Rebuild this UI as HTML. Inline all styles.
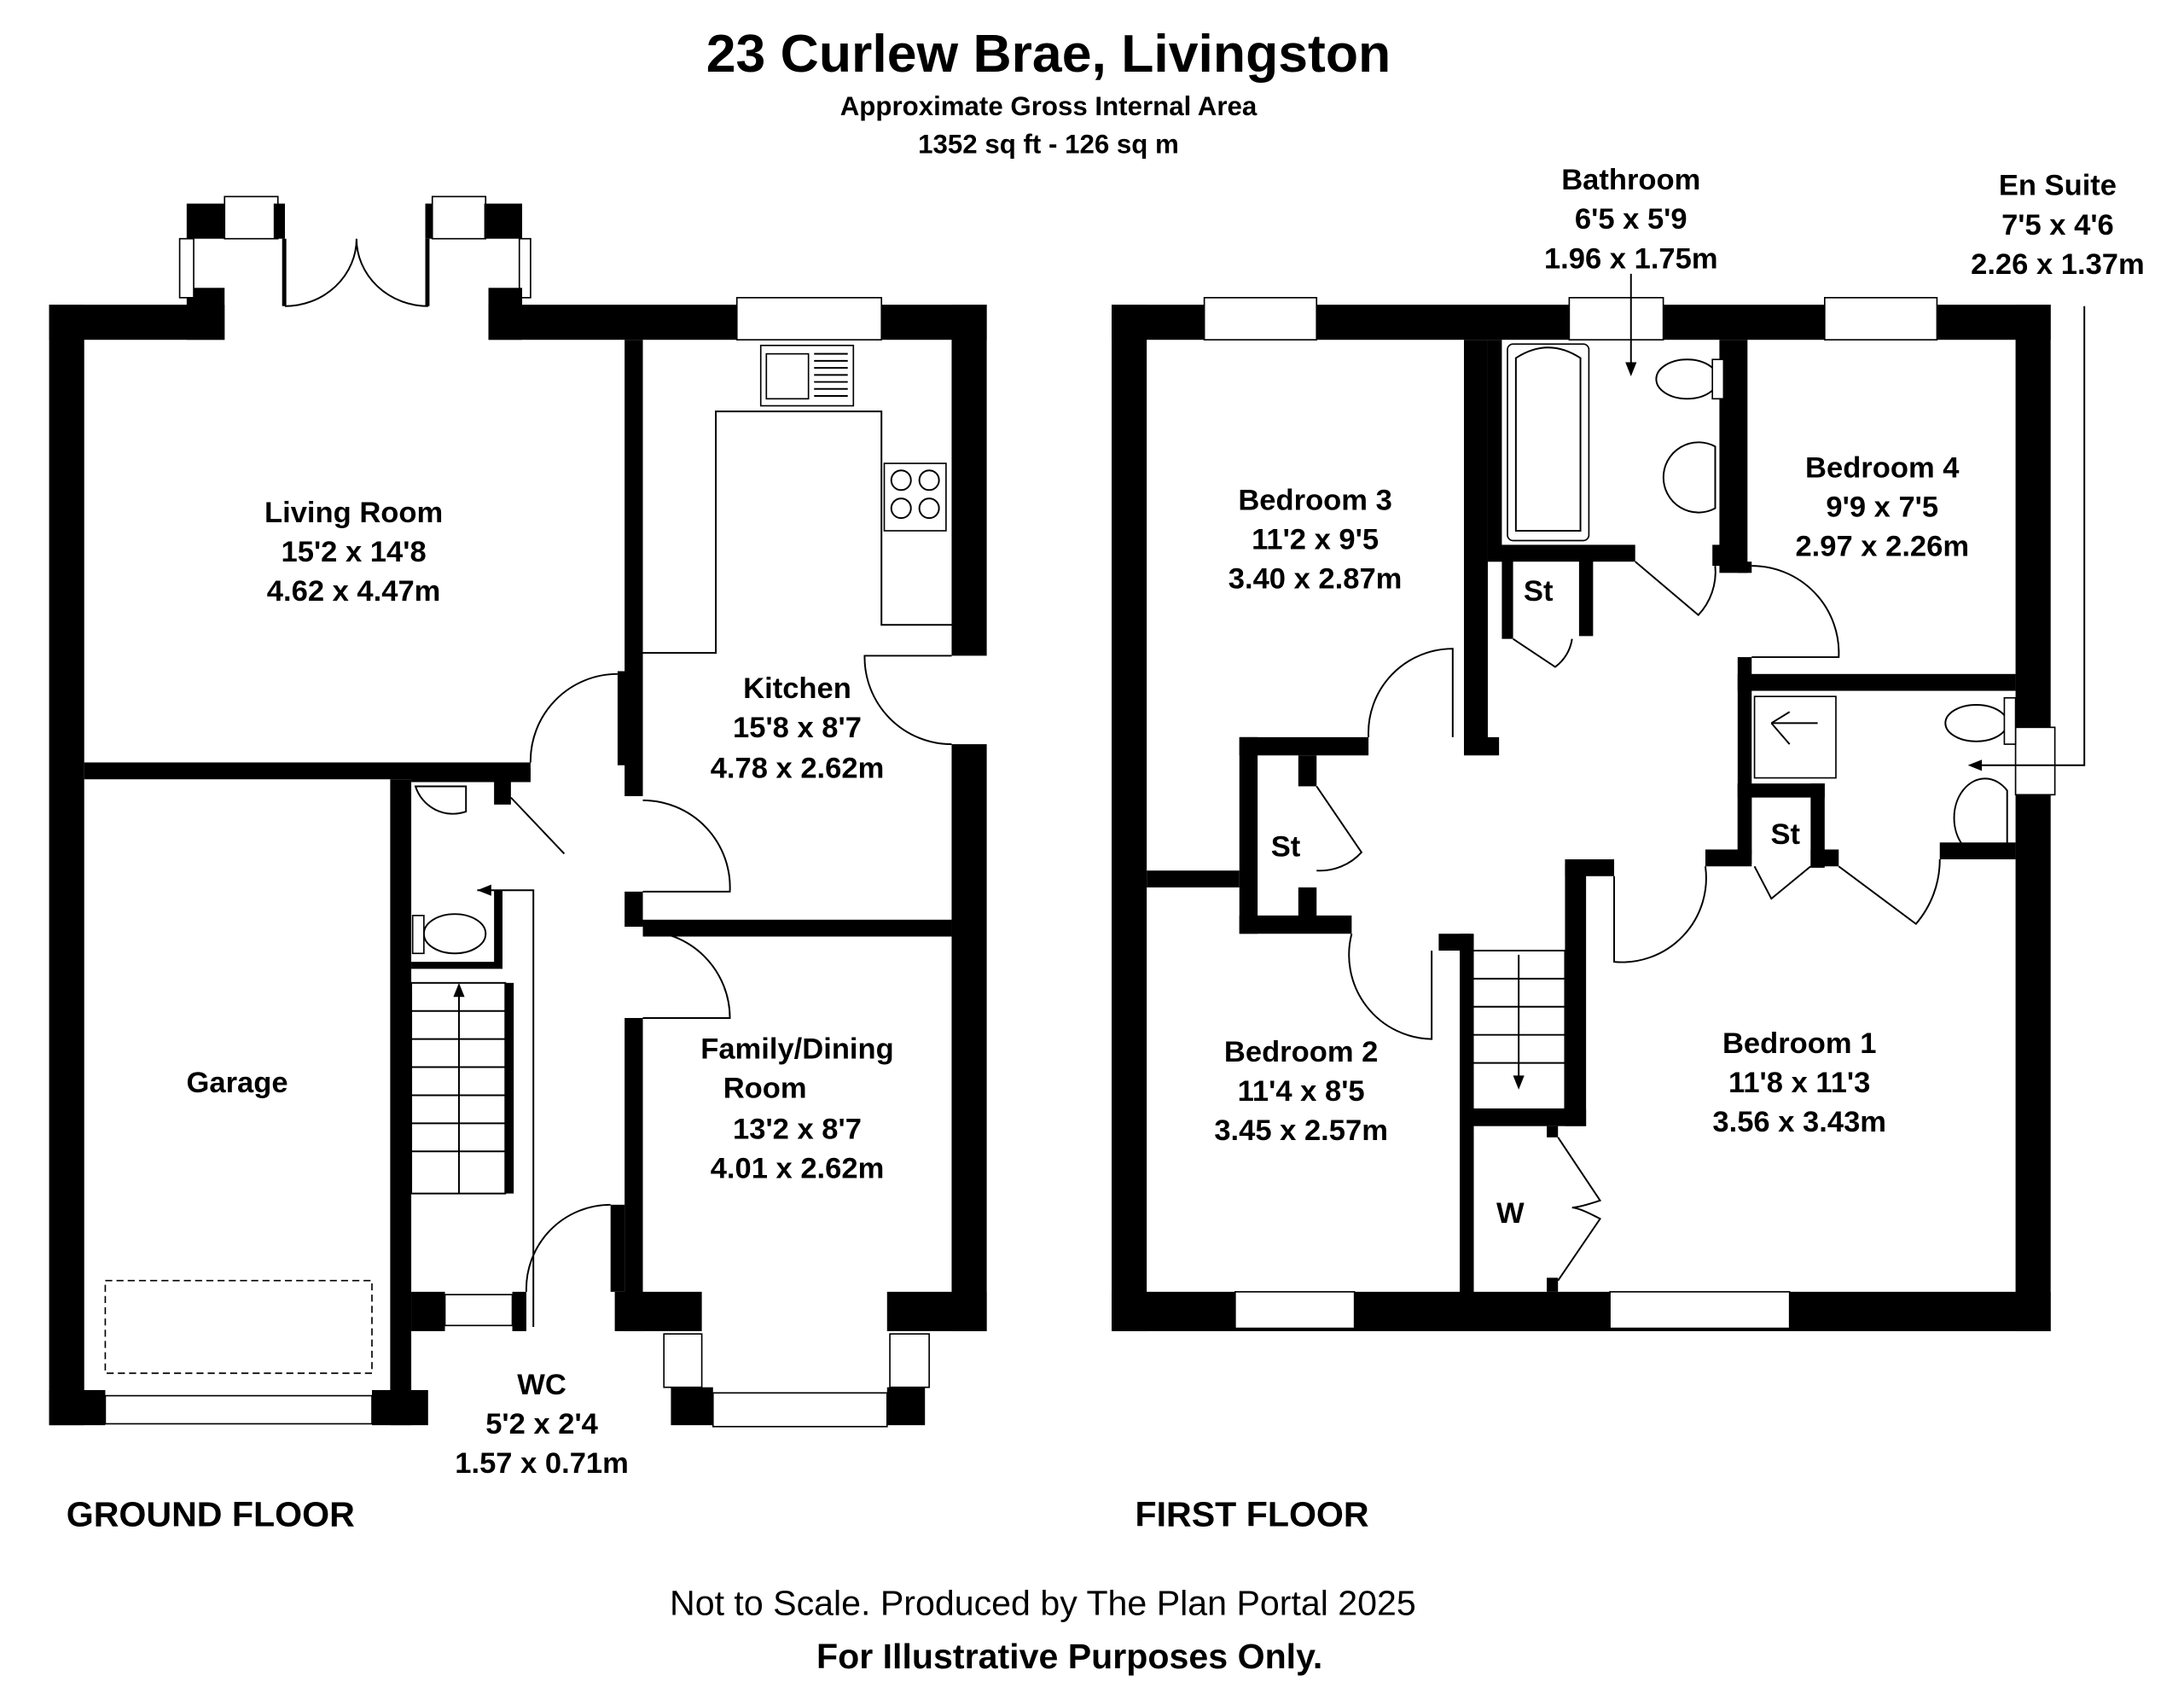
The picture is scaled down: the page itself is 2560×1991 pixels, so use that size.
<!DOCTYPE html>
<html><head><meta charset="utf-8"><style>
html,body{margin:0;padding:0;background:#fff}
svg{display:block}
text{font-family:"Liberation Sans",Arial,sans-serif;font-weight:bold;fill:#000;text-anchor:middle}
.t{font-size:21px}
.w{fill:#000}
.l{fill:none;stroke:#000;stroke-width:1.2}
.g{fill:#fff;stroke:#000;stroke-width:1}
</style></head><body>
<svg width="2560" height="1991" viewBox="0 0 1556 1210" preserveAspectRatio="none" xmlns="http://www.w3.org/2000/svg">
<rect width="1556" height="1210" fill="#fff"/>
<text x="747" y="51" style="font-size:38px">23 Curlew Brae, Livingston</text>
<text x="747" y="82" style="font-size:19px">Approximate Gross Internal Area</text>
<text x="747" y="109" style="font-size:19px">1352 sq ft - 126 sq m</text>

<!-- GROUND FLOOR -->
<g>
<rect class="w" x="35" y="217" width="125" height="25"/>
<rect class="w" x="35" y="217" width="25" height="798"/>
<rect class="w" x="35" y="990" width="40" height="25"/>
<rect class="w" x="265" y="990" width="40" height="25"/>
<rect class="w" x="278" y="555" width="15" height="460"/>
<rect class="g" x="75" y="994" width="190" height="20"/>
<rect x="75" y="912" width="190" height="66" fill="none" stroke="#000" stroke-dasharray="5,3"/>
<!-- bay french doors -->
<rect class="w" x="133" y="145" width="27" height="25"/>
<rect class="w" x="133" y="205" width="27" height="37"/>
<rect class="g" x="128" y="170" width="10" height="42"/>
<rect class="g" x="160" y="140" width="38" height="30"/>
<rect class="w" x="195" y="145" width="8" height="25"/>
<rect class="w" x="201" y="170" width="3" height="48"/>
<rect class="w" x="303" y="145" width="8" height="25"/>
<rect class="w" x="303" y="170" width="3" height="48"/>
<rect class="g" x="308" y="140" width="38" height="30"/>
<rect class="w" x="345" y="145" width="27" height="25"/>
<rect class="g" x="370" y="170" width="8" height="42"/>
<rect class="w" x="348" y="205" width="24" height="37"/>
<path class="l" d="M203,218 A51,48 0 0 0 254,170 A51,48 0 0 0 305,218"/>
<rect class="w" x="348" y="217" width="177" height="25"/>
<rect class="g" x="525" y="212" width="103" height="30"/>
<rect class="w" x="628" y="217" width="75" height="25"/>
<rect class="w" x="678" y="217" width="25" height="250"/>
<rect class="w" x="678" y="530" width="25" height="418"/>
<path class="l" d="M678,467 L616,467 A62,62 0 0 0 678,530"/>
<path class="l" d="M458,465 L510,465 L510,293 L628,293 L628,445 L678,445"/>
<rect class="g" x="542" y="246" width="66" height="43"/>
<path class="l" d="M580,252 h24 M580,257 h24 M580,262 h24 M580,267 h24 M580,272 h24 M580,277 h24 M580,282 h24"/>
<rect class="g" x="546" y="252" width="30" height="32"/>
<rect class="g" x="630" y="330" width="44" height="48"/>
<circle class="l" cx="642" cy="342" r="7"/><circle class="l" cx="662" cy="342" r="7"/>
<circle class="l" cx="642" cy="362" r="7"/><circle class="l" cx="662" cy="362" r="7"/>
<rect class="w" x="60" y="543" width="318" height="12"/>
<rect class="w" x="445" y="242" width="13" height="325"/>
<rect class="w" x="440" y="478" width="6" height="67"/>
<path class="l" d="M440,480 A62,62 0 0 0 378,543"/>
<path class="l" d="M458,570 A62,62 0 0 1 520,635 L458,635"/>
<rect class="w" x="445" y="635" width="13" height="25"/>
<rect class="w" x="458" y="655" width="220" height="12"/>
<path class="l" d="M458,663 A62,62 0 0 1 520,725 L458,725"/>
<rect class="w" x="445" y="725" width="13" height="223"/>
<rect class="w" x="438" y="920" width="62" height="28"/>
<rect class="w" x="632" y="920" width="71" height="28"/>
<rect class="g" x="473" y="950" width="27" height="38"/>
<rect class="g" x="634" y="950" width="28" height="38"/>
<rect class="w" x="478" y="988" width="30" height="27"/>
<rect class="w" x="632" y="988" width="27" height="27"/>
<rect class="g" x="508" y="992" width="124" height="24"/>
<!-- WC -->
<rect class="w" x="293" y="547" width="85" height="10"/>
<rect class="w" x="352" y="555" width="12" height="18"/>
<rect class="w" x="352" y="634" width="6" height="55"/>
<rect class="w" x="293" y="685" width="65" height="5"/>
<path class="l" d="M364,568 L402,608 M296,560 A28,28 0 0 0 332,578 L332,560 Z"/>
<ellipse class="l" cx="324" cy="665" rx="22" ry="14"/>
<rect class="g" x="294" y="652" width="8" height="27"/>
<path class="l" d="M340,634 L380,634 L380,945"/>
<path d="M340,634 l10,-4 v8 z"/>
<rect class="l" x="293" y="700" width="67" height="150"/>
<path class="l" d="M293,720 h67 M293,740 h67 M293,760 h67 M293,780 h67 M293,800 h67 M293,820 h67 M327,850 V705"/>
<path d="M327,700 l-4,10 h8 z"/>
<rect class="w" x="360" y="700" width="6" height="150"/>
<rect class="w" x="293" y="920" width="24" height="28"/>
<rect class="g" x="317" y="922" width="48" height="22"/>
<rect class="w" x="365" y="920" width="10" height="28"/>
<rect class="w" x="435" y="858" width="10" height="62"/>
<path class="l" d="M375,920 A60,60 0 0 1 435,858"/>
</g>
<text class="t" x="252" y="372">Living Room</text>
<text class="t" x="252" y="400">15'2 x 14'8</text>
<text class="t" x="252" y="428">4.62 x 4.47m</text>
<text class="t" x="568" y="497">Kitchen</text>
<text class="t" x="568" y="525">15'8 x 8'7</text>
<text class="t" x="568" y="554">4.78 x 2.62m</text>
<text class="t" x="568" y="754">Family/Dining</text>
<text class="t" x="545" y="782">Room</text>
<text class="t" x="568" y="811">13'2 x 8'7</text>
<text class="t" x="568" y="839">4.01 x 2.62m</text>
<text class="t" x="169" y="778">Garage</text>
<text class="t" x="386" y="993">WC</text>
<text class="t" x="386" y="1021">5'2 x 2'4</text>
<text class="t" x="386" y="1049">1.57 x 0.71m</text>
<text x="150" y="1087" style="font-size:25px">GROUND FLOOR</text>

<!-- FIRST FLOOR -->
<g>
<rect class="w" x="792" y="217" width="669" height="25"/>
<rect class="g" x="858" y="212" width="80" height="30"/>
<rect class="g" x="1118" y="212" width="67" height="30"/>
<rect class="g" x="1300" y="212" width="80" height="30"/>
<rect class="w" x="792" y="217" width="25" height="731"/>
<rect class="w" x="1436" y="217" width="25" height="731"/>
<rect class="g" x="1436" y="518" width="28" height="48"/>
<rect class="w" x="792" y="920" width="669" height="28"/>
<rect class="g" x="880" y="920" width="85" height="26"/>
<rect class="g" x="1147" y="920" width="128" height="26"/>
<rect class="w" x="1043" y="242" width="17" height="285"/>
<rect class="w" x="1060" y="242" width="10" height="158"/>
<rect class="w" x="1060" y="388" width="105" height="12"/>
<rect class="w" x="1225" y="242" width="20" height="166"/>
<rect class="w" x="1220" y="388" width="10" height="15"/>
<rect class="g" x="1074" y="245" width="58" height="140" rx="4"/>
<path class="l" d="M1080,255 Q1103,240 1126,255 V378 H1080 Z"/>
<ellipse class="l" cx="1202" cy="270" rx="22" ry="14"/>
<rect class="g" x="1220" y="256" width="8" height="28"/>
<path class="l" d="M1222,318 A25,25 0 1 0 1222,362 Z"/>
<path class="l" d="M1165,400 L1210,438 A45,45 0 0 0 1222,403"/>
<path class="l" d="M1162,195 V262"/><path d="M1162,268 l-4,-10 h8 z"/>
<rect class="w" x="1070" y="398" width="8" height="57"/>
<rect class="w" x="1125" y="398" width="10" height="55"/>
<path class="l" d="M1078,455 L1108,475 A30,30 0 0 0 1120,455"/>
<rect class="w" x="1238" y="400" width="10" height="8"/>
<path class="l" d="M1248,403 A62,62 0 0 1 1310,468 L1248,468"/>
<rect class="w" x="1238" y="468" width="10" height="140"/>
<rect class="w" x="1238" y="480" width="198" height="12"/>
<rect class="g" x="1250" y="496" width="58" height="58"/>
<path class="l" d="M1262,515 L1275,507 M1262,515 L1295,515 M1262,515 L1275,530"/>
<ellipse class="l" cx="1408" cy="515" rx="22" ry="13"/>
<rect class="g" x="1428" y="497" width="8" height="33"/>
<path class="l" d="M1430,563 A22,28 0 1 0 1430,602 Z"/>
<path class="l" d="M1485,218 V545 H1405"/><path d="M1402,545 l10,-4 v8 z"/>
<rect class="w" x="1382" y="600" width="54" height="12"/>
<rect class="w" x="1238" y="558" width="62" height="10"/>
<rect class="w" x="1238" y="558" width="10" height="57"/>
<rect class="w" x="1290" y="558" width="10" height="60"/>
<rect class="w" x="1215" y="605" width="33" height="12"/>
<rect class="w" x="1290" y="605" width="20" height="12"/>
<path class="l" d="M1250,617 L1262,640 L1290,617 M1310,617 L1365,658 A70,70 0 0 0 1382,612"/>
<rect class="w" x="883" y="525" width="92" height="13"/>
<rect class="w" x="1043" y="525" width="25" height="13"/>
<path class="l" d="M975,525 A60,60 0 0 1 1035,462 L1035,525"/>
<rect class="w" x="883" y="525" width="13" height="140"/>
<rect class="w" x="925" y="538" width="13" height="22"/>
<rect class="w" x="925" y="632" width="13" height="30"/>
<rect class="w" x="883" y="652" width="80" height="13"/>
<path class="l" d="M938,560 L970,607 A40,40 0 0 1 938,620"/>
<rect class="w" x="817" y="620" width="66" height="12"/>
<path class="l" d="M963,665 A60,60 0 0 0 1020,740 L1020,677"/>
<rect class="w" x="1025" y="665" width="23" height="12"/>
<rect class="w" x="1040" y="665" width="10" height="260"/>
<rect class="l" x="1048" y="677" width="67" height="113"/>
<path class="l" d="M1048,697 h67 M1048,717 h67 M1048,737 h67 M1048,757 h67 M1082,680 V770"/>
<path d="M1082,776 l-4,-10 h8 z"/>
<rect class="w" x="1048" y="790" width="82" height="12"/>
<rect class="w" x="1115" y="615" width="15" height="187"/>
<rect class="w" x="1115" y="612" width="35" height="12"/>
<path class="l" d="M1150,624 L1150,685 A60,60 0 0 0 1215,617"/>
<rect class="w" x="1102" y="802" width="8" height="8"/>
<rect class="w" x="1102" y="910" width="8" height="10"/>
<path class="l" d="M1110,810 L1140,855 Q1125,860 1120,860 Q1125,860 1140,868 L1110,912"/>
</g>
<text class="t" x="1162" y="135">Bathroom</text>
<text class="t" x="1162" y="163">6'5 x 5'9</text>
<text class="t" x="1162" y="191">1.96 x 1.75m</text>
<text class="t" x="1466" y="139">En Suite</text>
<text class="t" x="1466" y="167">7'5 x 4'6</text>
<text class="t" x="1466" y="195">2.26 x 1.37m</text>
<text class="t" x="937" y="363">Bedroom 3</text>
<text class="t" x="937" y="391">11'2 x 9'5</text>
<text class="t" x="937" y="419">3.40 x 2.87m</text>
<text class="t" x="1341" y="340">Bedroom 4</text>
<text class="t" x="1341" y="368">9'9 x 7'5</text>
<text class="t" x="1341" y="396">2.97 x 2.26m</text>
<text class="t" x="1096" y="428">St</text>
<text class="t" x="916" y="610">St</text>
<text class="t" x="1272" y="601">St</text>
<text class="t" x="927" y="756">Bedroom 2</text>
<text class="t" x="927" y="784">11'4 x 8'5</text>
<text class="t" x="927" y="812">3.45 x 2.57m</text>
<text class="t" x="1282" y="750">Bedroom 1</text>
<text class="t" x="1282" y="778">11'8 x 11'3</text>
<text class="t" x="1282" y="806">3.56 x 3.43m</text>
<text class="t" x="1076" y="871">W</text>
<text x="892" y="1087" style="font-size:25px">FIRST FLOOR</text>

<text x="743" y="1150" style="font-size:25px;font-weight:normal">Not to Scale. Produced by The Plan Portal 2025</text>
<text x="762" y="1188" style="font-size:25px">For Illustrative Purposes Only.</text>
</svg>
</body></html>
